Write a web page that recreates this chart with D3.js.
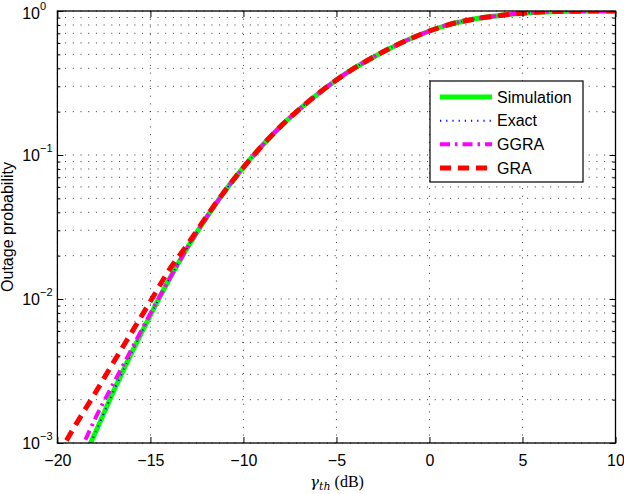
<!DOCTYPE html>
<html><head><meta charset="utf-8">
<script src="https://cdn.jsdelivr.net/npm/d3@7"></script>
<style>body{margin:0;background:#fff}svg{display:block}</style>
</head><body>
<svg id="chart" width="624" height="494"></svg>
<script>
// ---- data ----
const xTicks = [-20, -15, -10, -5, 0, 5, 10];
const yTickExp = [-3, -2, -1, 0];

// Exact / Simulation curve: SNR threshold (dB) and outage probability
const exactX = [-18.5, -18, -17, -16, -15, -14, -13, -12, -11, -10, -9, -8, -7, -6, -5, -4, -3, -2, -1, 0, 1, 2, 3, 4, 5, 6, 7, 8, 10];
const exactY = [0.00083, 0.00115, 0.00226, 0.00426, 0.00774, 0.01361, 0.02286, 0.03664, 0.0561, 0.0820, 0.1159, 0.1581, 0.2075, 0.2655, 0.3319, 0.4036, 0.4797, 0.5610, 0.6442, 0.7261, 0.8017, 0.8590, 0.9036, 0.9376, 0.9660, 0.9840, 0.9931, 0.9977, 1.0];

const simX = exactX;
const simY = exactY;

const ggraX = [-19, -18.5, -18, -17, -16, -15, -14, -13, -12, -11, -10, -9, -8, -7, -6, -5, -4, -3, -2, -1, 0, 1, 2, 3, 4, 5, 6, 7, 8, 10];
const ggraY = [0.00076, 0.00105, 0.00145, 0.00257, 0.00452, 0.00794, 0.01361, 0.02286, 0.03664, 0.0561, 0.0820, 0.1159, 0.1581, 0.2075, 0.2655, 0.3319, 0.4036, 0.4797, 0.5610, 0.6442, 0.7261, 0.8017, 0.8590, 0.9036, 0.9376, 0.9660, 0.9840, 0.9931, 0.9977, 1.0];

const graX = [-20, -19, -18, -17, -16, -15, -14, -13, -12, -11, -10, -9, -8, -7, -6, -5, -4, -3, -2, -1, 0, 1, 2, 3, 4, 5, 6, 7, 8, 10];
const graY = [0.00081, 0.00135, 0.00219, 0.00361, 0.00589, 0.00964, 0.01585, 0.0240, 0.0372, 0.0563, 0.0820, 0.1159, 0.1581, 0.2075, 0.2655, 0.3319, 0.4036, 0.4797, 0.5610, 0.6442, 0.7261, 0.8017, 0.8590, 0.9036, 0.9376, 0.9660, 0.9840, 0.9931, 0.9977, 1.0];

const seriesNames = ["Simulation", "Exact", "GGRA", "GRA"];

// ---- layout ----
const L = 57.4, R = 615.5, T = 11, B = 443;
const svg = d3.select("#chart");
const x = d3.scaleLinear().domain([-20, 10]).range([L, R]);
const y = d3.scaleLog().domain([1e-3, 1]).range([B, T]);

const styles = [
  {color: "#00ff00", width: 5, dash: null},
  {color: "#0000ff", width: 2, dash: "1.2,5"},
  {color: "#ff00ff", width: 4, dash: "10,5,2.5,5"},
  {color: "#ff0000", width: 5, dash: "11,7"}
];
const data = [
  d3.zip(simX, simY), d3.zip(exactX, exactY), d3.zip(ggraX, ggraY), d3.zip(graX, graY)
];

// grid
const grid = svg.append("g");
const minorY = [];
for (let e = -3; e < 0; e++) for (let m = 1; m <= 9; m++) minorY.push(m * Math.pow(10, e));
minorY.push(1);
grid.selectAll("line.h").data(minorY).enter().append("line")
  .attr("x1", L).attr("x2", R).attr("y1", d => y(d)).attr("y2", d => y(d))
  .attr("stroke", "#222").attr("stroke-width", 0.9).attr("stroke-dasharray", "1,6.7");
grid.selectAll("line.v").data(xTicks).enter().append("line")
  .attr("x1", d => x(d)).attr("x2", d => x(d)).attr("y1", T).attr("y2", B)
  .attr("stroke", "#222").attr("stroke-width", 0.9).attr("stroke-dasharray", "1,6.7");

// curves
svg.append("clipPath").attr("id", "clip").append("rect")
  .attr("x", L).attr("y", T).attr("width", R - L).attr("height", B - T);
const line = d3.line().x(d => x(d[0])).y(d => y(d[1])).curve(d3.curveMonotoneX);
const cg = svg.append("g").attr("clip-path", "url(#clip)");
data.forEach((d, i) => {
  cg.append("path").attr("d", line(d)).attr("fill", "none")
    .attr("stroke", styles[i].color).attr("stroke-width", styles[i].width)
    .attr("stroke-dasharray", styles[i].dash);
});

// axes (ticks inward on all four sides)
const xAxisB = d3.axisBottom(x).tickValues(xTicks).tickSizeInner(-6).tickSizeOuter(0)
  .tickFormat(d => d < 0 ? "\u2212" + Math.abs(d) : d);
const gx = svg.append("g").attr("transform", `translate(0,${B})`).call(xAxisB);
gx.select(".domain").remove();
gx.selectAll("text").attr("dy", "1.25em").attr("font-family", "Liberation Sans, Arial, sans-serif").attr("font-size", 16).attr("fill", "#000");
gx.selectAll("line").attr("stroke", "#000");
const gxt = svg.append("g").attr("transform", `translate(0,${T})`)
  .call(d3.axisTop(x).tickValues(xTicks).tickSizeInner(-6).tickSizeOuter(0).tickFormat(""));
gxt.select(".domain").remove();

const yMajor = yTickExp.map(e => Math.pow(10, e));
const gyl = svg.append("g").attr("transform", `translate(${L},0)`)
  .call(d3.axisLeft(y).tickValues(yMajor).tickSizeInner(-6).tickSizeOuter(0).tickFormat(""));
gyl.select(".domain").remove();
const gyr = svg.append("g").attr("transform", `translate(${R},0)`)
  .call(d3.axisRight(y).tickValues(yMajor).tickSizeInner(-6).tickSizeOuter(0).tickFormat(""));
gyr.select(".domain").remove();
const minorOnly = minorY.filter(v => !yMajor.some(m => Math.abs(m - v) < 1e-12));
svg.append("g").attr("transform", `translate(${L},0)`)
  .call(d3.axisLeft(y).tickValues(minorOnly).tickSizeInner(-3).tickSizeOuter(0).tickFormat(""))
  .select(".domain").remove();
svg.append("g").attr("transform", `translate(${R},0)`)
  .call(d3.axisRight(y).tickValues(minorOnly).tickSizeInner(-3).tickSizeOuter(0).tickFormat(""))
  .select(".domain").remove();

// y tick labels 10^e
const yl = svg.append("g").attr("font-family", "Liberation Sans, Arial, sans-serif").attr("fill", "#000");
yTickExp.forEach(e => {
  const yy = Math.max(y(Math.pow(10, e)), 13);
  yl.append("text").attr("x", 40).attr("y", yy + 6).attr("text-anchor", "end").attr("font-size", 16).text("10");
  yl.append("text").attr("x", 40).attr("y", yy - 3).attr("font-size", 11)
    .text(e === 0 ? "0" : "\u2212" + Math.abs(e));
});

// frame
svg.append("rect").attr("x", L).attr("y", T).attr("width", R - L).attr("height", B - T)
  .attr("fill", "none").attr("stroke", "#000").attr("stroke-width", 1.3);

// axis labels
const xl = svg.append("text").attr("x", 337).attr("y", 487).attr("text-anchor", "middle")
  .attr("font-family", "DejaVu Serif, Liberation Serif, serif").attr("font-size", 15).attr("fill", "#000");
xl.append("tspan").attr("font-style", "italic").text("\u03b3");
xl.append("tspan").attr("font-style", "italic").attr("font-size", 11).attr("dy", 3).text("th");
xl.append("tspan").attr("dy", -3).attr("font-family", "Liberation Serif, serif").attr("font-size", 16).text(" (dB)");

svg.append("text").attr("transform", "rotate(-90)").attr("x", -227).attr("y", 13)
  .attr("text-anchor", "middle").attr("font-family", "Liberation Sans, Arial, sans-serif")
  .attr("font-size", 16).attr("fill", "#000").text("Outage probability");

// legend
const lg = svg.append("g");
lg.append("rect").attr("x", 430).attr("y", 81).attr("width", 153).attr("height", 101)
  .attr("fill", "#fff").attr("stroke", "#000").attr("stroke-width", 1.2);
const ly = d3.scalePoint().domain(seriesNames).range([97, 168]);
seriesNames.forEach((n, i) => {
  lg.append("line").attr("x1", 440).attr("x2", 492).attr("y1", ly(n)).attr("y2", ly(n))
    .attr("stroke", styles[i].color).attr("stroke-width", styles[i].width)
    .attr("stroke-dasharray", styles[i].dash);
  lg.append("text").attr("x", 497).attr("y", ly(n) + 5.5).attr("font-family", "Liberation Sans, Arial, sans-serif")
    .attr("font-size", 16).attr("fill", "#000").text(n);
});
</script>
</body></html>
